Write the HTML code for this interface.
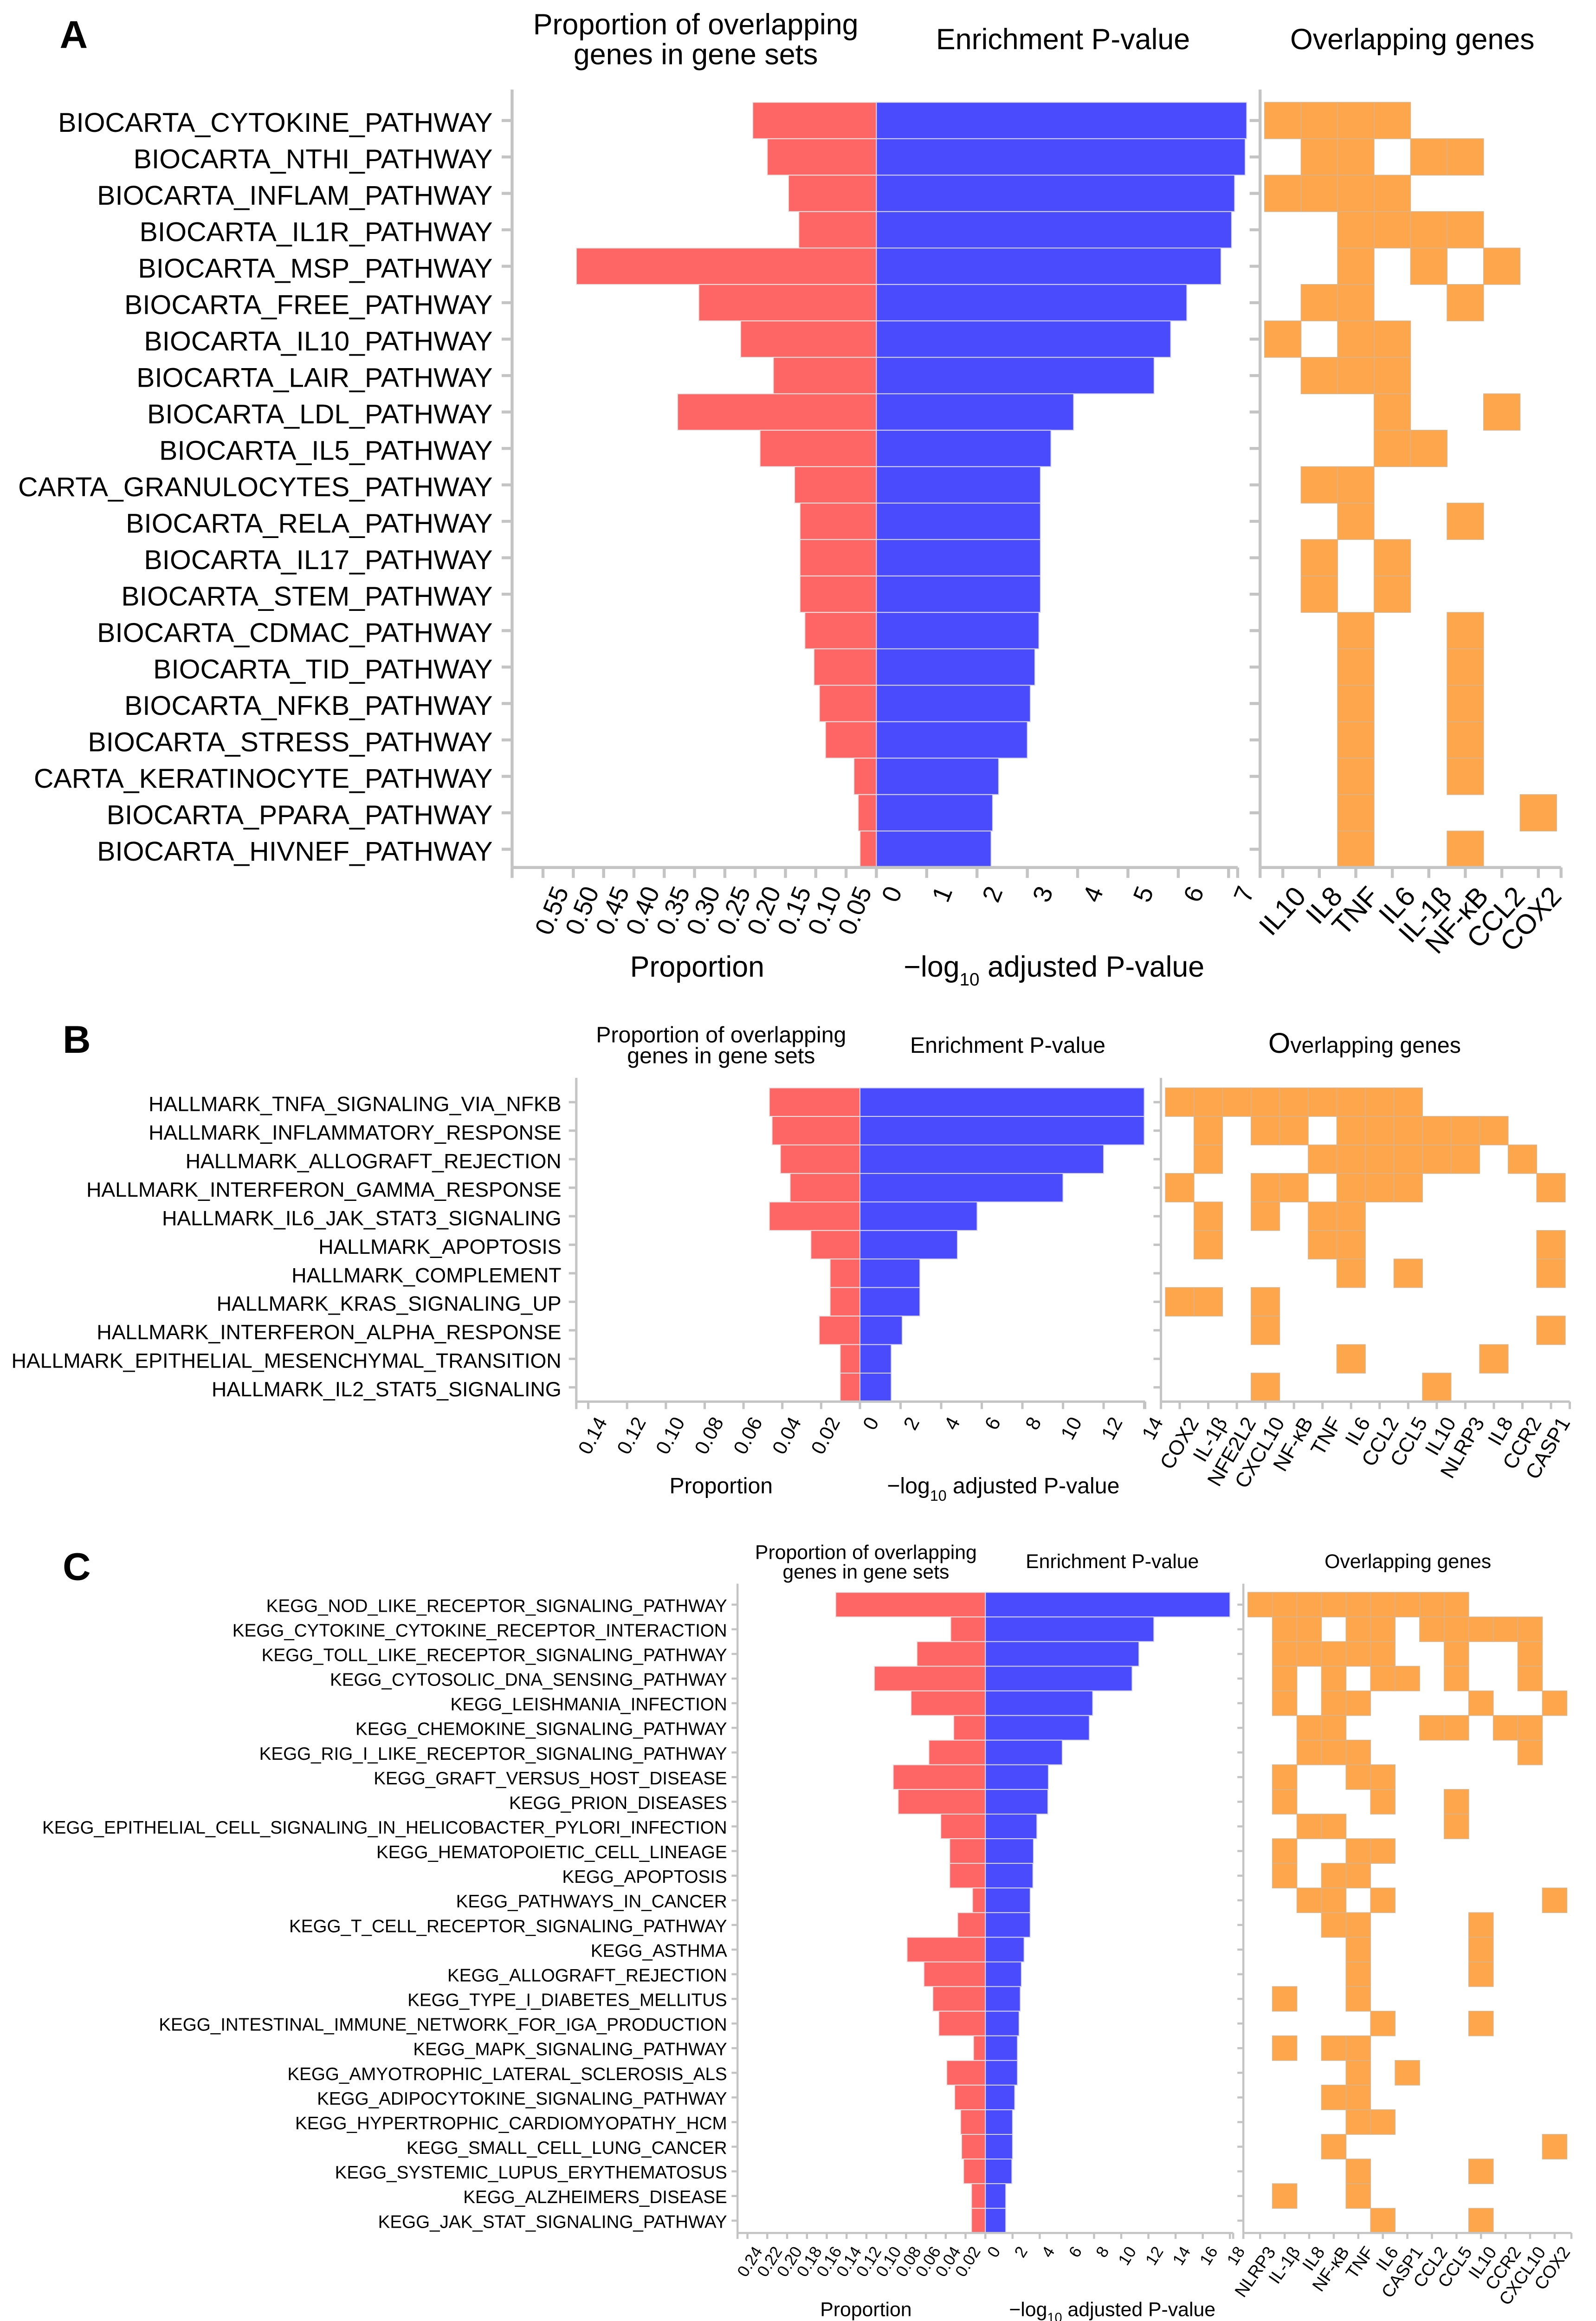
<!DOCTYPE html>
<html><head><meta charset="utf-8"><title>Gene set enrichment</title>
<style>
html,body{margin:0;padding:0;background:#fff;overflow:hidden;}
svg{display:block;font-family:"Liberation Sans",Arial,sans-serif;}
</style></head>
<body>
<svg id="chart" width="3439" height="5013" viewBox="0 0 1069 1558.3" preserveAspectRatio="none" xmlns="http://www.w3.org/2000/svg">
<rect x="0" y="0" width="1069" height="1558.3" fill="#fff"/>
<!-- Panel A titles -->
<text x="40" y="32" font-size="26" font-weight="bold">A</text>
<text x="466" y="23" font-size="19.5" text-anchor="middle">Proportion of overlapping</text>
<text x="466" y="43" font-size="19.5" text-anchor="middle">genes in gene sets</text>
<text x="712" y="33" font-size="19.5" text-anchor="middle">Enrichment P-value</text>
<text x="946" y="33" font-size="19.5" text-anchor="middle">Overlapping genes</text>
<text x="467" y="654" font-size="19.5" text-anchor="middle">Proportion</text>
<text x="706" y="654" font-size="19.5" text-anchor="middle">−log<tspan font-size="12" dy="6">10</tspan><tspan dy="-6"> adjusted P-value</tspan></text>
<!-- Panel B titles -->
<text x="42" y="705" font-size="26" font-weight="bold">B</text>
<text x="483" y="698" font-size="15" text-anchor="middle">Proportion of overlapping</text>
<text x="483" y="712" font-size="15" text-anchor="middle">genes in gene sets</text>
<text x="675" y="705" font-size="15" text-anchor="middle">Enrichment P-value</text>
<text x="914" y="705" font-size="15" text-anchor="middle"><tspan font-size="19">O</tspan>verlapping genes</text>
<text x="483" y="1000" font-size="15" text-anchor="middle">Proportion</text>
<text x="672" y="1000" font-size="15" text-anchor="middle">−log<tspan font-size="10" dy="5">10</tspan><tspan dy="-5"> adjusted P-value</tspan></text>
<!-- Panel C titles -->
<text x="42" y="1058" font-size="26" font-weight="bold">C</text>
<text x="580" y="1044" font-size="13.3" text-anchor="middle">Proportion of overlapping</text>
<text x="580" y="1057" font-size="13.3" text-anchor="middle">genes in gene sets</text>
<text x="745" y="1050" font-size="13.3" text-anchor="middle">Enrichment P-value</text>
<text x="943" y="1050" font-size="13.3" text-anchor="middle">Overlapping genes</text>
<text x="580" y="1551" font-size="13.3" text-anchor="middle">Proportion</text>
<text x="745" y="1551" font-size="13.3" text-anchor="middle">−log<tspan font-size="9" dy="4">10</tspan><tspan dy="-4"> adjusted P-value</tspan></text>
</svg>
<script>
// ---------- Panel A data ----------
const aLabels = ["BIOCARTA_CYTOKINE_PATHWAY","BIOCARTA_NTHI_PATHWAY","BIOCARTA_INFLAM_PATHWAY","BIOCARTA_IL1R_PATHWAY","BIOCARTA_MSP_PATHWAY","BIOCARTA_FREE_PATHWAY","BIOCARTA_IL10_PATHWAY","BIOCARTA_LAIR_PATHWAY","BIOCARTA_LDL_PATHWAY","BIOCARTA_IL5_PATHWAY","CARTA_GRANULOCYTES_PATHWAY","BIOCARTA_RELA_PATHWAY","BIOCARTA_IL17_PATHWAY","BIOCARTA_STEM_PATHWAY","BIOCARTA_CDMAC_PATHWAY","BIOCARTA_TID_PATHWAY","BIOCARTA_NFKB_PATHWAY","BIOCARTA_STRESS_PATHWAY","CARTA_KERATINOCYTE_PATHWAY","BIOCARTA_PPARA_PATHWAY","BIOCARTA_HIVNEF_PATHWAY"];
const aProportion = [0.204,0.18,0.145,0.128,0.495,0.293,0.224,0.17,0.328,0.192,0.135,0.126,0.126,0.126,0.118,0.103,0.094,0.084,0.037,0.03,0.027];
const aPvalue = [7.36,7.33,7.12,7.06,6.85,6.17,5.85,5.52,3.92,3.47,3.26,3.26,3.26,3.26,3.23,3.15,3.06,3.0,2.43,2.31,2.28];
const aPropTicks = [0.05,0.10,0.15,0.20,0.25,0.30,0.35,0.40,0.45,0.50,0.55];
const aPropTickLabels = ["0.05","0.10","0.15","0.20","0.25","0.30","0.35","0.40","0.45","0.50","0.55"];
const aPvalTicks = [0,1,2,3,4,5,6,7];
const aGenes = ["IL10","IL8","TNF","IL6","IL-1β","NF-κB","CCL2","COX2"];
const aMatrix = [
[1,1,1,1,0,0,0,0],[0,1,1,0,1,1,0,0],[1,1,1,1,0,0,0,0],[0,0,1,1,1,1,0,0],[0,0,1,0,1,0,1,0],
[0,1,1,0,0,1,0,0],[1,0,1,1,0,0,0,0],[0,1,1,1,0,0,0,0],[0,0,0,1,0,0,1,0],[0,0,0,1,1,0,0,0],
[0,1,1,0,0,0,0,0],[0,0,1,0,0,1,0,0],[0,1,0,1,0,0,0,0],[0,1,0,1,0,0,0,0],[0,0,1,0,0,1,0,0],
[0,0,1,0,0,1,0,0],[0,0,1,0,0,1,0,0],[0,0,1,0,0,1,0,0],[0,0,1,0,0,1,0,0],[0,0,1,0,0,0,0,1],
[0,0,1,0,0,1,0,0]];

// ---------- Panel B data ----------
const bLabels = ["HALLMARK_TNFA_SIGNALING_VIA_NFKB","HALLMARK_INFLAMMATORY_RESPONSE","HALLMARK_ALLOGRAFT_REJECTION","HALLMARK_INTERFERON_GAMMA_RESPONSE","HALLMARK_IL6_JAK_STAT3_SIGNALING","HALLMARK_APOPTOSIS","HALLMARK_COMPLEMENT","HALLMARK_KRAS_SIGNALING_UP","HALLMARK_INTERFERON_ALPHA_RESPONSE","HALLMARK_EPITHELIAL_MESENCHYMAL_TRANSITION","HALLMARK_IL2_STAT5_SIGNALING"];
const bProportion = [0.0467,0.0453,0.041,0.036,0.0467,0.0253,0.0154,0.0154,0.021,0.0102,0.0102];
const bPvalue = [14.0,14.0,12.0,10.0,5.77,4.8,2.95,2.95,2.08,1.54,1.54];
const bPropTicks = [0.02,0.04,0.06,0.08,0.10,0.12,0.14];
const bPropTickLabels = ["0.02","0.04","0.06","0.08","0.10","0.12","0.14"];
const bPvalTicks = [0,2,4,6,8,10,12,14];
const bGenes = ["COX2","IL-1β","NFE2L2","CXCL10","NF-κB","TNF","IL6","CCL2","CCL5","IL10","NLRP3","IL8","CCR2","CASP1"];
const bMatrix = [
[1,1,1,1,1,1,1,1,1,0,0,0,0,0],
[0,1,0,1,1,0,1,1,1,1,1,1,0,0],
[0,1,0,0,0,1,1,1,1,1,1,0,1,0],
[1,0,0,1,1,0,1,1,1,0,0,0,0,1],
[0,1,0,1,0,1,1,0,0,0,0,0,0,0],
[0,1,0,0,0,1,1,0,0,0,0,0,0,1],
[0,0,0,0,0,0,1,0,1,0,0,0,0,1],
[1,1,0,1,0,0,0,0,0,0,0,0,0,0],
[0,0,0,1,0,0,0,0,0,0,0,0,0,1],
[0,0,0,0,0,0,1,0,0,0,0,1,0,0],
[0,0,0,1,0,0,0,0,0,1,0,0,0,0]];

// ---------- Panel C data ----------
const cLabels = ["KEGG_NOD_LIKE_RECEPTOR_SIGNALING_PATHWAY","KEGG_CYTOKINE_CYTOKINE_RECEPTOR_INTERACTION","KEGG_TOLL_LIKE_RECEPTOR_SIGNALING_PATHWAY","KEGG_CYTOSOLIC_DNA_SENSING_PATHWAY","KEGG_LEISHMANIA_INFECTION","KEGG_CHEMOKINE_SIGNALING_PATHWAY","KEGG_RIG_I_LIKE_RECEPTOR_SIGNALING_PATHWAY","KEGG_GRAFT_VERSUS_HOST_DISEASE","KEGG_PRION_DISEASES","KEGG_EPITHELIAL_CELL_SIGNALING_IN_HELICOBACTER_PYLORI_INFECTION","KEGG_HEMATOPOIETIC_CELL_LINEAGE","KEGG_APOPTOSIS","KEGG_PATHWAYS_IN_CANCER","KEGG_T_CELL_RECEPTOR_SIGNALING_PATHWAY","KEGG_ASTHMA","KEGG_ALLOGRAFT_REJECTION","KEGG_TYPE_I_DIABETES_MELLITUS","KEGG_INTESTINAL_IMMUNE_NETWORK_FOR_IGA_PRODUCTION","KEGG_MAPK_SIGNALING_PATHWAY","KEGG_AMYOTROPHIC_LATERAL_SCLEROSIS_ALS","KEGG_ADIPOCYTOKINE_SIGNALING_PATHWAY","KEGG_HYPERTROPHIC_CARDIOMYOPATHY_HCM","KEGG_SMALL_CELL_LUNG_CANCER","KEGG_SYSTEMIC_LUPUS_ERYTHEMATOSUS","KEGG_ALZHEIMERS_DISEASE","KEGG_JAK_STAT_SIGNALING_PATHWAY"];
const cProportion = [0.151,0.035,0.069,0.112,0.075,0.032,0.057,0.093,0.088,0.045,0.036,0.036,0.013,0.028,0.079,0.062,0.053,0.047,0.012,0.039,0.031,0.025,0.024,0.022,0.014,0.014];
const cPvalue = [18.0,12.4,11.3,10.8,7.9,7.65,5.66,4.64,4.6,3.79,3.54,3.5,3.3,3.3,2.85,2.65,2.57,2.48,2.36,2.36,2.16,2.0,2.0,1.95,1.5,1.5];
const cPropTicks = [0.02,0.04,0.06,0.08,0.10,0.12,0.14,0.16,0.18,0.20,0.22,0.24];
const cPropTickLabels = ["0.02","0.04","0.06","0.08","0.10","0.12","0.14","0.16","0.18","0.20","0.22","0.24"];
const cPvalTicks = [0,2,4,6,8,10,12,14,16,18];
const cGenes = ["NLRP3","IL-1β","IL8","NF-κB","TNF","IL6","CASP1","CCL2","CCL5","IL10","CCR2","CXCL10","COX2"];
const cMatrix = [
[1,1,1,1,1,1,1,1,1,0,0,0,0],
[0,1,1,0,1,1,0,1,1,1,1,1,0],
[0,1,1,1,1,1,0,0,1,0,0,1,0],
[0,1,0,1,0,1,1,0,1,0,0,1,0],
[0,1,0,1,1,0,0,0,0,1,0,0,1],
[0,0,1,1,0,0,0,1,1,0,1,1,0],
[0,0,1,1,1,0,0,0,0,0,0,1,0],
[0,1,0,0,1,1,0,0,0,0,0,0,0],
[0,1,0,0,0,1,0,0,1,0,0,0,0],
[0,0,1,1,0,0,0,0,1,0,0,0,0],
[0,1,0,0,1,1,0,0,0,0,0,0,0],
[0,1,0,1,1,0,0,0,0,0,0,0,0],
[0,0,1,1,0,1,0,0,0,0,0,0,1],
[0,0,0,1,1,0,0,0,0,1,0,0,0],
[0,0,0,0,1,0,0,0,0,1,0,0,0],
[0,0,0,0,1,0,0,0,0,1,0,0,0],
[0,1,0,0,1,0,0,0,0,0,0,0,0],
[0,0,0,0,0,1,0,0,0,1,0,0,0],
[0,1,0,1,1,0,0,0,0,0,0,0,0],
[0,0,0,0,1,0,1,0,0,0,0,0,0],
[0,0,0,1,1,0,0,0,0,0,0,0,0],
[0,0,0,0,1,1,0,0,0,0,0,0,0],
[0,0,0,1,0,0,0,0,0,0,0,0,1],
[0,0,0,0,1,0,0,0,0,1,0,0,0],
[0,1,0,0,1,0,0,0,0,0,0,0,0],
[0,0,0,0,0,1,0,0,0,1,0,0,0]];

const NS = "http://www.w3.org/2000/svg";
const svg = document.getElementById("chart");
const AX = "#c4c4c4";
function mk(tag, attrs, parent){
  const e = document.createElementNS(NS, tag);
  for (const k in attrs) e.setAttribute(k, attrs[k]);
  (parent || svg).appendChild(e);
  return e;
}

function drawPanel(id, labels, prop, pval, propTicks, propTickLabels, pvalTicks, genes, matrix, L){
  const g = mk("g", {});
  
  
  const n = labels.length;
  const rowY = i => L.rowTop + i * L.rowH;
  const propX = v => L.zeroX - v * L.propScale;
  const pvalX = v => L.zeroX + v * L.pvalScale;
  const axisY = L.rowTop + n * L.rowH;
  for (let i = 0; i < n; i++){
    const r = mk("rect", {x: propX(prop[i]), y: rowY(i), width: L.zeroX - propX(prop[i]), height: L.rowH, fill: "#fe6565", stroke: "#e6e6e6", "stroke-width": 0.6}, g);
    
    
    const b = mk("rect", {x: L.zeroX, y: rowY(i), width: pvalX(pval[i]) - L.zeroX, height: L.rowH, fill: "#4b4bfe", stroke: "#d8d8e8", "stroke-width": 0.6}, g);
    
    
    const t = mk("text", {x: L.labelX, y: rowY(i) + L.rowH/2 + L.labelSize*0.36 + L.labelDy, "font-size": L.labelSize, "text-anchor": "end", fill: "#000"}, g);
    t.textContent = labels[i];
    
    
    const tk = mk("line", {x1: L.leftAxisX - L.tickLen, x2: L.leftAxisX, y1: rowY(i) + L.rowH/2, y2: rowY(i) + L.rowH/2, stroke: AX, "stroke-width": L.axW}, g);
    
    
  }
  const la = mk("line", {x1: L.leftAxisX, x2: L.leftAxisX, y1: L.rowTop - L.rowH*0.35, y2: axisY, stroke: AX, "stroke-width": L.axW}, g);
  
  
  const ba = mk("line", {x1: L.leftAxisX, x2: L.pAxisEnd, y1: axisY, y2: axisY, stroke: AX, "stroke-width": L.axW}, g);
  
  
  const allTicks = [];
  propTicks.forEach((v, k) => allTicks.push([propX(v), propTickLabels[k]]));
  pvalTicks.forEach(v => allTicks.push([pvalX(v), String(v)]));
  allTicks.push([L.leftAxisX, null]);
  allTicks.push([L.pAxisEnd, null]);
  allTicks.forEach(([x, lab]) => {
    const tk = mk("line", {x1: x, x2: x, y1: axisY, y2: axisY + L.tickLen, stroke: AX, "stroke-width": L.axW}, g);
    
    
    if (lab !== null){
      const tx = x + L.tickSize*0.35, ty = axisY + L.tickLen + 4;
      const t = mk("text", {x: tx, y: ty, "font-size": L.tickSize, "text-anchor": "end", "dominant-baseline": "hanging", transform: "rotate(" + L.numRot + " " + tx + " " + ty + ")"}, g);
      t.textContent = lab;
      
      
    }
  });
  const m = genes.length;
  const colX = j => L.gridX + j * L.colW;
  for (let i = 0; i < n; i++){
    for (let j = 0; j < m; j++){
      if (matrix[i][j]){
        const c = mk("rect", {x: colX(j), y: rowY(i), width: L.colW, height: L.rowH, fill: "#fda64b", stroke: "#d9b48c", "stroke-width": 0.5}, g);
        
        
      }
    }
    const tk = mk("line", {x1: L.gridX - 3 - L.tickLen, x2: L.gridX - 3, y1: rowY(i) + L.rowH/2, y2: rowY(i) + L.rowH/2, stroke: AX, "stroke-width": L.axW}, g);
    
    
  }
  const hl = mk("line", {x1: L.gridX - 3, x2: L.gridX - 3, y1: L.rowTop - L.rowH*0.35, y2: axisY, stroke: AX, "stroke-width": L.axW}, g);
  
  
  const gridEnd = colX(m) + 3;
  const hb = mk("line", {x1: L.gridX - 3, x2: gridEnd, y1: axisY, y2: axisY, stroke: AX, "stroke-width": L.axW}, g);
  
  
  [L.gridX - 3, gridEnd].forEach(x => {
    const e = mk("line", {x1: x, x2: x, y1: axisY, y2: axisY + L.tickLen, stroke: AX, "stroke-width": L.axW}, g);
    
    
  });
  for (let j = 0; j < m; j++){
    const x = colX(j) + L.colW/2;
    const tk = mk("line", {x1: x, x2: x, y1: axisY, y2: axisY + L.tickLen, stroke: AX, "stroke-width": L.axW}, g);
    
    
    const tx = x + L.geneSize*0.35, ty = axisY + L.tickLen + 4;
    const t = mk("text", {x: tx, y: ty, "font-size": L.geneSize, "text-anchor": "end", "dominant-baseline": "hanging", transform: "rotate(" + L.geneRot + " " + tx + " " + ty + ")"}, g);
    t.textContent = genes[j];
    
    
  }
}

drawPanel("a", aLabels, aProportion, aPvalue, aPropTicks, aPropTickLabels, aPvalTicks, aGenes, aMatrix,
  {rowTop: 68.5, rowH: 24.4, leftAxisX: 343, zeroX: 587, propScale: 406, pvalScale: 33.7, pAxisEnd: 829,
   gridX: 847, colW: 24.45, labelX: 330, labelSize: 18.3, labelDy: 1, tickSize: 17, geneSize: 18.5,
   numRot: -68, geneRot: -48, tickLen: 7, axW: 2});
drawPanel("b", bLabels, bProportion, bPvalue, bPropTicks, bPropTickLabels, bPvalTicks, bGenes, bMatrix,
  {rowTop: 728.5, rowH: 19.1, leftAxisX: 386, zeroX: 576, propScale: 1300, pvalScale: 13.6, pAxisEnd: 767,
   gridX: 780.6, colW: 19.13, labelX: 376, labelSize: 13.9, labelDy: 1, tickSize: 13.3, geneSize: 13.8,
   numRot: -62, geneRot: -60, tickLen: 5, axW: 1.6});
drawPanel("c", cLabels, cProportion, cPvalue, cPropTicks, cPropTickLabels, cPvalTicks, cGenes, cMatrix,
  {rowTop: 1066.3, rowH: 16.5, leftAxisX: 494, zeroX: 660, propScale: 664, pvalScale: 9.1, pAxisEnd: 826,
   gridX: 835.8, colW: 16.44, labelX: 487, labelSize: 12.0, labelDy: 0.5, tickSize: 11, geneSize: 11.8,
   numRot: -58, geneRot: -55, tickLen: 4, axW: 1.4});
</script>
</body></html>
